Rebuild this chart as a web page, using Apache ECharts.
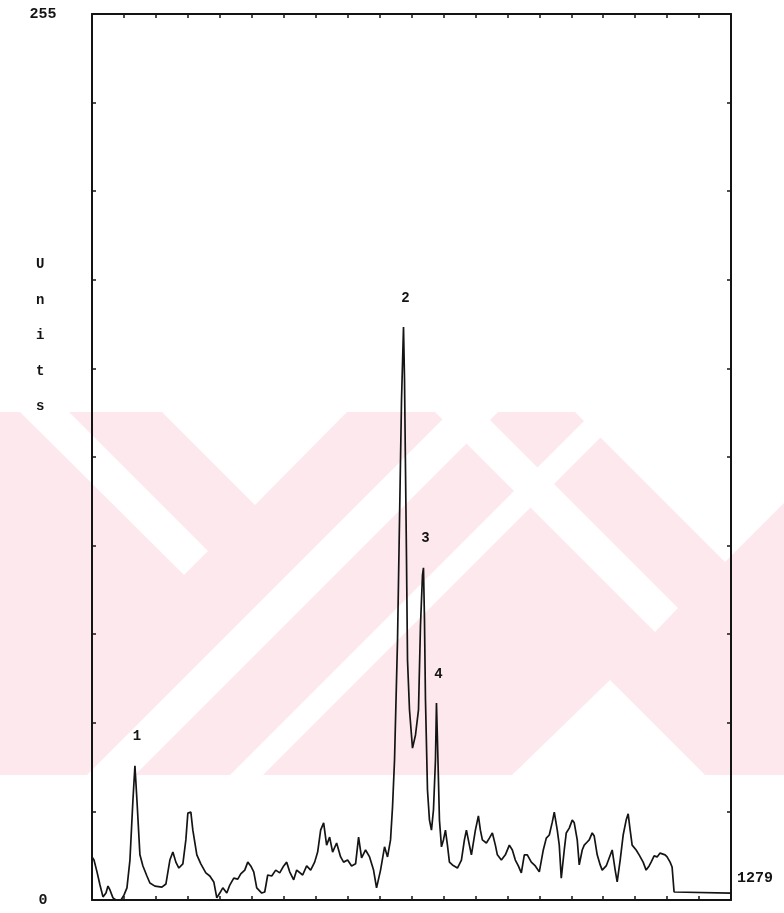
<!DOCTYPE html>
<html>
<head>
<meta charset="utf-8">
<script src="https://cdn.jsdelivr.net/npm/echarts@6/dist/echarts.min.js"></script>
<style>
  html, body { margin: 0; padding: 0; background: #fff; }
  #chart { width: 784px; height: 913px; }
</style>
</head>
<body>
<div id="chart"></div>
<script>
// Detector trace: channel index (0..1279) against signal in units (0..255)
const channel = [
  0, 4, 10, 16, 22, 28, 32, 36, 42, 48, 58, 64, 70, 76, 82, 86, 90, 96, 102, 110,
  116, 126, 140, 148, 156, 162, 168, 174, 182, 188, 192, 198, 202, 210, 218, 228, 236, 244, 250, 256,
  262, 270, 276, 284, 292, 298, 306, 312, 318, 324, 330, 340, 346, 352, 360, 368, 376, 384, 390, 396,
  404, 410, 422, 430, 438, 446, 452, 458, 464, 470, 476, 482, 490, 498, 504, 512, 520, 528, 534, 540,
  548, 556, 564, 570, 578, 586, 592, 598, 602, 606, 612, 616, 620, 624, 626, 628, 630, 632, 636, 642,
  648, 654, 658, 662, 664, 666, 668, 672, 676, 680, 684, 688, 690, 692, 696, 700, 704, 708, 712, 716,
  722, 732, 740, 746, 750, 756, 760, 768, 774, 778, 782, 790, 796, 802, 808, 812, 820, 828, 836, 842,
  848, 854, 860, 866, 872, 880, 888, 896, 904, 910, 916, 922, 926, 932, 936, 940, 946, 950, 956, 962,
  966, 972, 976, 982, 986, 992, 996, 1002, 1006, 1012, 1018, 1022, 1030, 1036, 1042, 1048, 1052, 1058, 1064, 1070,
  1074, 1078, 1082, 1090, 1096, 1104, 1110, 1116, 1120, 1126, 1132, 1138, 1142, 1148, 1152, 1158, 1162, 1166, 1170, 1279
];
const signal = [
  12.4, 11.5, 8.1, 4.3, 0.9, 2.0, 4.0, 2.9, 0.6, 0, 0, 1.4, 3.5, 11.5, 28.8, 38.6, 28.8, 13.0, 9.8, 6.9,
  4.9, 4.0, 3.7, 4.6, 11.5, 13.8, 10.9, 9.2, 10.4, 17.3, 25.0, 25.3, 20.1, 13.0, 10.4, 7.8, 6.9, 5.2, 0.6, 2.0,
  3.5, 2.0, 4.3, 6.3, 6.0, 7.5, 8.6, 10.9, 9.8, 8.1, 3.5, 2.0, 2.3, 7.2, 6.9, 8.6, 7.8, 9.8, 10.9, 8.1,
  5.8, 8.6, 7.2, 9.8, 8.6, 10.9, 13.8, 20.1, 22.2, 15.8, 18.1, 13.8, 16.4, 12.4, 10.9, 11.5, 9.8, 10.4, 18.1, 12.1,
  14.4, 12.4, 8.6, 3.5, 8.6, 15.3, 12.4, 17.3, 26.8, 40.3, 74.8, 109.4, 143.9, 164.9, 149.7, 123.8, 97.9, 69.1, 54.7, 43.7,
  47.5, 54.7, 79.1, 93.5, 95.6, 80.6, 57.6, 31.7, 23.0, 20.1, 25.9, 40.3, 56.7, 46.0, 23.0, 15.3, 17.3, 20.1, 15.8, 10.9,
  10.1, 9.2, 11.5, 17.3, 20.1, 15.8, 13.0, 20.1, 24.2, 20.1, 17.3, 16.4, 17.8, 19.3, 15.8, 13.0, 11.5, 13.0, 15.8, 14.4,
  11.5, 9.8, 7.8, 13.0, 13.0, 10.9, 9.8, 8.1, 14.4, 17.8, 18.7, 22.4, 25.3, 20.1, 15.8, 6.3, 14.4, 19.3, 20.7, 23.0,
  22.2, 17.3, 10.1, 14.4, 15.8, 16.7, 17.3, 19.3, 18.4, 13.0, 10.1, 8.6, 9.8, 12.1, 14.4, 8.6, 5.2, 11.5, 18.7, 23.0,
  24.8, 20.1, 15.8, 14.4, 13.0, 10.9, 8.6, 9.8, 10.9, 12.7, 12.4, 13.5, 13.5, 13.0, 12.4, 10.9, 9.5, 2.3, 2.0, 2.0
];
// Numbered peaks: channel of each apex and its tag
const peakChannels = [86, 624, 664, 690];
const peakTags = ['1', '2', '3', '4'];

const xMin = 0, xMax = 1280, xStep = 64;
const yMin = 0, yMax = 255, yStep = 25.5;

const font = '"Liberation Mono", "DejaVu Sans Mono", monospace';
const ink = '#141414';
const wash = '#fde9ed';

const points = channel.map((c, i) => [c, signal[i]]);
const peakMarks = peakChannels.map((c, k) => ({
  coord: [c, signal[channel.indexOf(c)]],
  label: { formatter: peakTags[k] }
}));

// Pale printed background pattern behind the plot (page decoration):
// a tinted strip crossed by white diagonal cut-outs
const cutouts = [
  [[20, 412], [69, 412], [208, 551], [184, 575]],
  [[162, 412], [347, 412], [255, 505]],
  [[450, 412], [498, 412], [135, 775], [87, 775]],
  [[593, 412], [626, 412], [263, 775], [230, 775]],
  [[435, 412], [482, 412], [678, 608], [655, 632]],
  [[575, 412], [784, 412], [784, 503], [725, 562]],
  [[610, 680], [705, 775], [512, 775]]
];
const decor = [{ type: 'rect', shape: { x: 0, y: 412, width: 784, height: 363 }, style: { fill: wash } }]
  .concat(cutouts.map(p => ({ type: 'polygon', shape: { points: p }, style: { fill: '#ffffff' } })))
  .map(el => Object.assign(el, { z: -10, silent: true }));

const axisLineStyle = { color: ink, width: 2 };
const tickInside = { show: true, inside: true, length: 4, lineStyle: { color: ink, width: 1.5 } };
const textBase = { fontFamily: font, fontWeight: 'bold', fontSize: 15, color: ink };

const chart = echarts.init(document.getElementById('chart'), null, { renderer: 'canvas' });
chart.setOption({
  animation: false,
  backgroundColor: '#ffffff',
  grid: { left: 92, right: 53, top: 14, bottom: 13 },
  xAxis: [
    {
      type: 'value', position: 'bottom', min: xMin, max: xMax, interval: xStep,
      axisLine: { show: true, onZero: false, lineStyle: axisLineStyle },
      axisTick: tickInside, axisLabel: { show: false }, splitLine: { show: false },
      name: '1279', nameLocation: 'end', nameGap: 6,
      nameTextStyle: Object.assign({}, textBase, { verticalAlign: 'bottom', padding: [0, 0, 14, 0] })
    },
    {
      type: 'value', position: 'top', min: xMin, max: xMax, interval: xStep,
      axisLine: { show: true, onZero: false, lineStyle: axisLineStyle },
      axisTick: tickInside, axisLabel: { show: false }, splitLine: { show: false }
    }
  ],
  yAxis: [
    {
      type: 'value', position: 'left', min: yMin, max: yMax, interval: yStep,
      axisLine: { show: true, onZero: false, lineStyle: axisLineStyle },
      axisTick: tickInside, splitLine: { show: false },
      axisLabel: Object.assign({}, textBase, {
        show: true, margin: 49, align: 'center',
        formatter: v => (Math.abs(v - yMin) < 1e-6 ? '0' : (Math.abs(v - yMax) < 1e-6 ? '255' : ''))
      })
    },
    {
      type: 'value', position: 'right', min: yMin, max: yMax, interval: yStep,
      axisLine: { show: true, onZero: false, lineStyle: axisLineStyle },
      axisTick: tickInside, axisLabel: { show: false }, splitLine: { show: false }
    }
  ],
  graphic: decor.concat([
    {
      type: 'text', left: 36, top: 247, z: 5,
      style: {
        text: 'U\nn\ni\nt\ns', fontFamily: font, fontWeight: 'bold', fontSize: 14,
        lineHeight: 35.5, fill: ink, align: 'center'
      }
    }
  ]),
  series: [
    {
      type: 'line', xAxisIndex: 0, yAxisIndex: 0, data: points,
      showSymbol: false, symbol: 'none', smooth: false,
      lineStyle: { color: ink, width: 1.7 },
      z: 3,
      markPoint: {
        symbol: 'circle', symbolSize: 0, silent: true,
        label: Object.assign({}, textBase, { fontSize: 14, show: true, position: 'top', distance: 22, offset: [2, 0] }),
        data: peakMarks
      }
    }
  ]
});
</script>
</body>
</html>
